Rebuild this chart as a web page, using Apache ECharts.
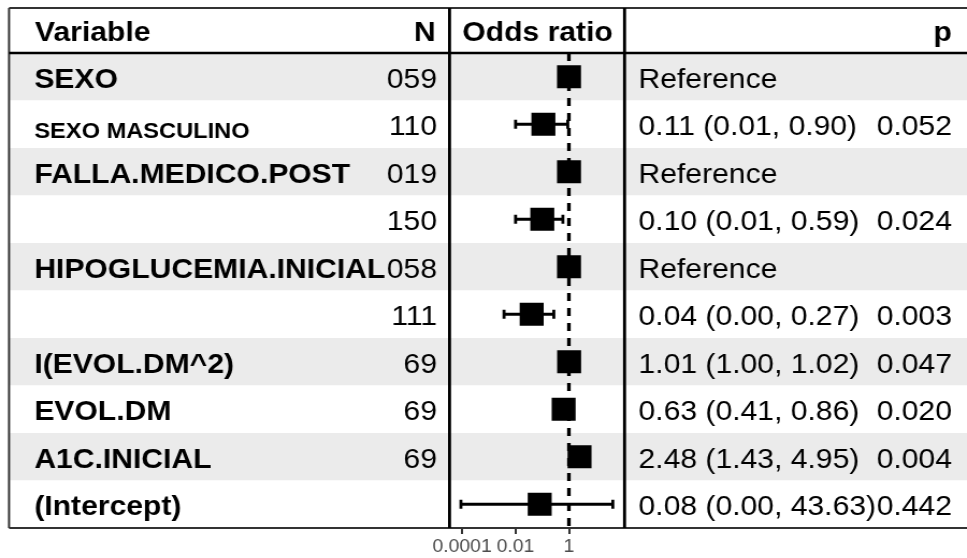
<!DOCTYPE html>
<html>
<head>
<meta charset="utf-8">
<script src="https://cdn.jsdelivr.net/npm/echarts@6/dist/echarts.min.js"></script>
<style>
  html, body { margin: 0; padding: 0; background: #fff; overflow: hidden; }
  /* the table is laid out on a 900px canvas and widened to the 967px page */
  #chart { width: 900px; height: 558px; transform: scaleX(1.0744); transform-origin: 0 0; }
</style>
</head>
<body>
<div id="chart"></div>
<script>
// Logistic regression summary: one row per model term or factor level
const variables = ['SEXO', 'SEXO MASCULINO', 'FALLA.MEDICO.POST', '', 'HIPOGLUCEMIA.INICIAL', '', 'I(EVOL.DM^2)', 'EVOL.DM', 'A1C.INICIAL', '(Intercept)'];
const levelRow  = [false, true, false, false, false, false, false, false, false, false];
const nObs      = ['059', '110', '019', '150', '058', '111', '69', '69', '69', ''];
const isReference = [true, false, true, false, true, false, false, false, false, false];
const oddsRatio = [1, 0.11, 1, 0.10, 1, 0.04, 1.01, 0.63, 2.48, 0.08];
const ciLower   = [null, 0.01, null, 0.01, null, 0.0037, 1.00, 0.41, 1.43, 0.00009];
const ciUpper   = [null, 0.90, null, 0.59, null, 0.27, 1.02, 0.86, 4.95, 43.63];
const pValues   = ['', '0.052', '', '0.024', '', '0.003', '0.047', '0.020', '0.004', '0.442'];
const axisTicks = [0.0001, 0.01, 1];
const axisTickLabels = ['0.0001', '0.01', '1'];

const FONT = '"Liberation Sans", Arial, Helvetica, sans-serif';
const TEXT_SIZE = 28;

const rows = variables.map((_, i) => i);
const f2 = v => v.toFixed(2);
const estimateText = rows.map(i => isReference[i]
  ? 'Reference'
  : `${f2(oddsRatio[i])} (${f2(ciLower[i])}, ${f2(ciUpper[i])})`);

// frame geometry (canvas px)
const L = 8.4, R = 900, TOP = 8, HEAD = 53, BOTTOM = 528;
const SEP1 = 418.4, SEP2 = 581.3;
const bodyTop = HEAD, bodyH = BOTTOM - HEAD;
const HEAD_Y = 33.5;

const chart = echarts.init(document.getElementById('chart'));

const hiddenX = idx => ({ gridIndex: idx, type: 'value', show: false, min: 0, max: 1 });

// cell text: a rich token whose top padding drops the glyphs slightly below the row centre
const cellStyle = (bold, size, drop) => ({
  fontSize: size, fontWeight: bold ? 'bold' : 'normal', color: '#000', fontFamily: FONT, padding: [drop, 0, 0, 0]
});
const textAxis = (grid, data, position, margin, align, formatter, rich) => ({
  gridIndex: grid, type: 'category', data: data, inverse: true, position: position,
  axisLine: { show: false }, axisTick: { show: false }, splitLine: { show: false },
  axisLabel: {
    inside: true, margin: margin, align: align, interval: 0,
    formatter: formatter || (v => `{t|${v}}`),
    rich: rich || { t: cellStyle(false, TEXT_SIZE, 7) }
  }
});

const headerText = (text, x, align) => ({
  type: 'text', x: x, y: HEAD_Y, z: 100,
  style: { text: text, fill: '#000', fontSize: TEXT_SIZE, fontWeight: 'bold', fontFamily: FONT, align: align, verticalAlign: 'middle' }
});
const rule = (x1, y1, x2, y2, color, width) => ({
  type: 'line', z: 100, shape: { x1: x1, y1: y1, x2: x2, y2: y2 }, style: { stroke: color, lineWidth: width }
});

const option = {
  animation: false,
  backgroundColor: '#fff',
  grid: [
    { left: L, right: 0, top: bodyTop, height: bodyH },               // row shading
    { left: L, width: SEP1 - L, top: bodyTop, height: bodyH },        // Variable / N
    { left: SEP1, width: SEP2 - SEP1, top: bodyTop, height: bodyH },  // odds ratio plot
    { left: SEP2, right: 0, top: bodyTop, height: bodyH }             // estimate / p
  ],
  xAxis: [
    hiddenX(0),
    hiddenX(1),
    {
      gridIndex: 2, type: 'log', logBase: 10,
      min: 3.38e-5, max: 120,
      axisLine: { show: false },
      splitLine: { show: false },
      axisTick: { show: true, customValues: axisTicks, length: 6, lineStyle: { color: '#333', width: 2 } },
      axisLabel: {
        show: true, customValues: axisTicks, margin: 10,
        color: '#4d4d4d', fontSize: 18, fontFamily: FONT,
        formatter: v => {
          const k = axisTicks.findIndex(t => Math.abs(Math.log10(t) - Math.log10(v)) < 1e-6);
          return k >= 0 ? axisTickLabels[k] : '';
        }
      }
    },
    hiddenX(3)
  ],
  yAxis: [
    {
      gridIndex: 0, type: 'category', data: rows, inverse: true,
      axisLine: { show: false }, axisTick: { show: false }, axisLabel: { show: false },
      splitLine: { show: false },
      splitArea: { show: true, areaStyle: { color: ['#ebebeb', '#ffffff'] } }
    },
    textAxis(1, variables, 'left', 23.5, 'left',
      (v, i) => levelRow[i] ? `{lvl|${v}}` : `{var|${v}}`,
      { var: cellStyle(true, TEXT_SIZE, 7), lvl: cellStyle(true, 22, 16) }),
    textAxis(1, nObs, 'right', 11.7, 'right'),
    { gridIndex: 2, type: 'category', data: rows, inverse: true, show: false },
    textAxis(3, estimateText, 'left', 13, 'left'),
    textAxis(3, pValues, 'right', 14, 'right')
  ],
  series: [
    {
      name: 'Confidence interval',
      type: 'custom',
      xAxisIndex: 2, yAxisIndex: 3,
      encode: { x: [0, 1], y: 2 },
      data: rows.filter(i => ciLower[i] != null).map(i => [ciLower[i], ciUpper[i], i]),
      renderItem: (params, api) => {
        const row = api.value(2);
        const a = api.coord([api.value(0), row]);
        const b = api.coord([api.value(1), row]);
        const cap = 4.5;
        const st = { stroke: '#000', lineWidth: 3 };
        const capSt = { stroke: '#000', lineWidth: 2.8 };
        return {
          type: 'group',
          children: [
            { type: 'line', shape: { x1: a[0], y1: a[1], x2: b[0], y2: b[1] }, style: st },
            { type: 'line', shape: { x1: a[0], y1: a[1] - cap, x2: a[0], y2: a[1] + cap }, style: capSt },
            { type: 'line', shape: { x1: b[0], y1: b[1] - cap, x2: b[0], y2: b[1] + cap }, style: capSt }
          ]
        };
      },
      z: 3
    },
    {
      name: 'Odds ratio',
      type: 'scatter',
      xAxisIndex: 2, yAxisIndex: 3,
      data: rows.map(i => [oddsRatio[i], i]),
      symbol: 'rect',
      symbolSize: [22.3, 23],
      itemStyle: { color: '#000', opacity: 1 },
      z: 4,
      markLine: {
        silent: true,
        symbol: ['none', 'none'],
        label: { show: false },
        lineStyle: { color: '#000', width: 3.3, type: [8, 7], opacity: 1 },
        data: [{ xAxis: 1 }]
      }
    }
  ],
  graphic: [
    headerText('Variable', 32.6, 'left'),
    headerText('N', 405.5, 'right'),
    headerText('Odds ratio', 500.3, 'center'),
    headerText('p', 885.8, 'right'),
    rule(L, TOP, R, TOP, '#333', 2),
    rule(L, TOP, L, BOTTOM, '#333', 2),
    rule(L, HEAD, R, HEAD, '#000', 2.5),
    rule(L, BOTTOM, R, BOTTOM, '#333', 2),
    rule(SEP1, TOP, SEP1, BOTTOM, '#000', 2.8),
    rule(SEP2, TOP, SEP2, BOTTOM, '#000', 2.8)
  ]
};

chart.setOption(option);
</script>
</body>
</html>
